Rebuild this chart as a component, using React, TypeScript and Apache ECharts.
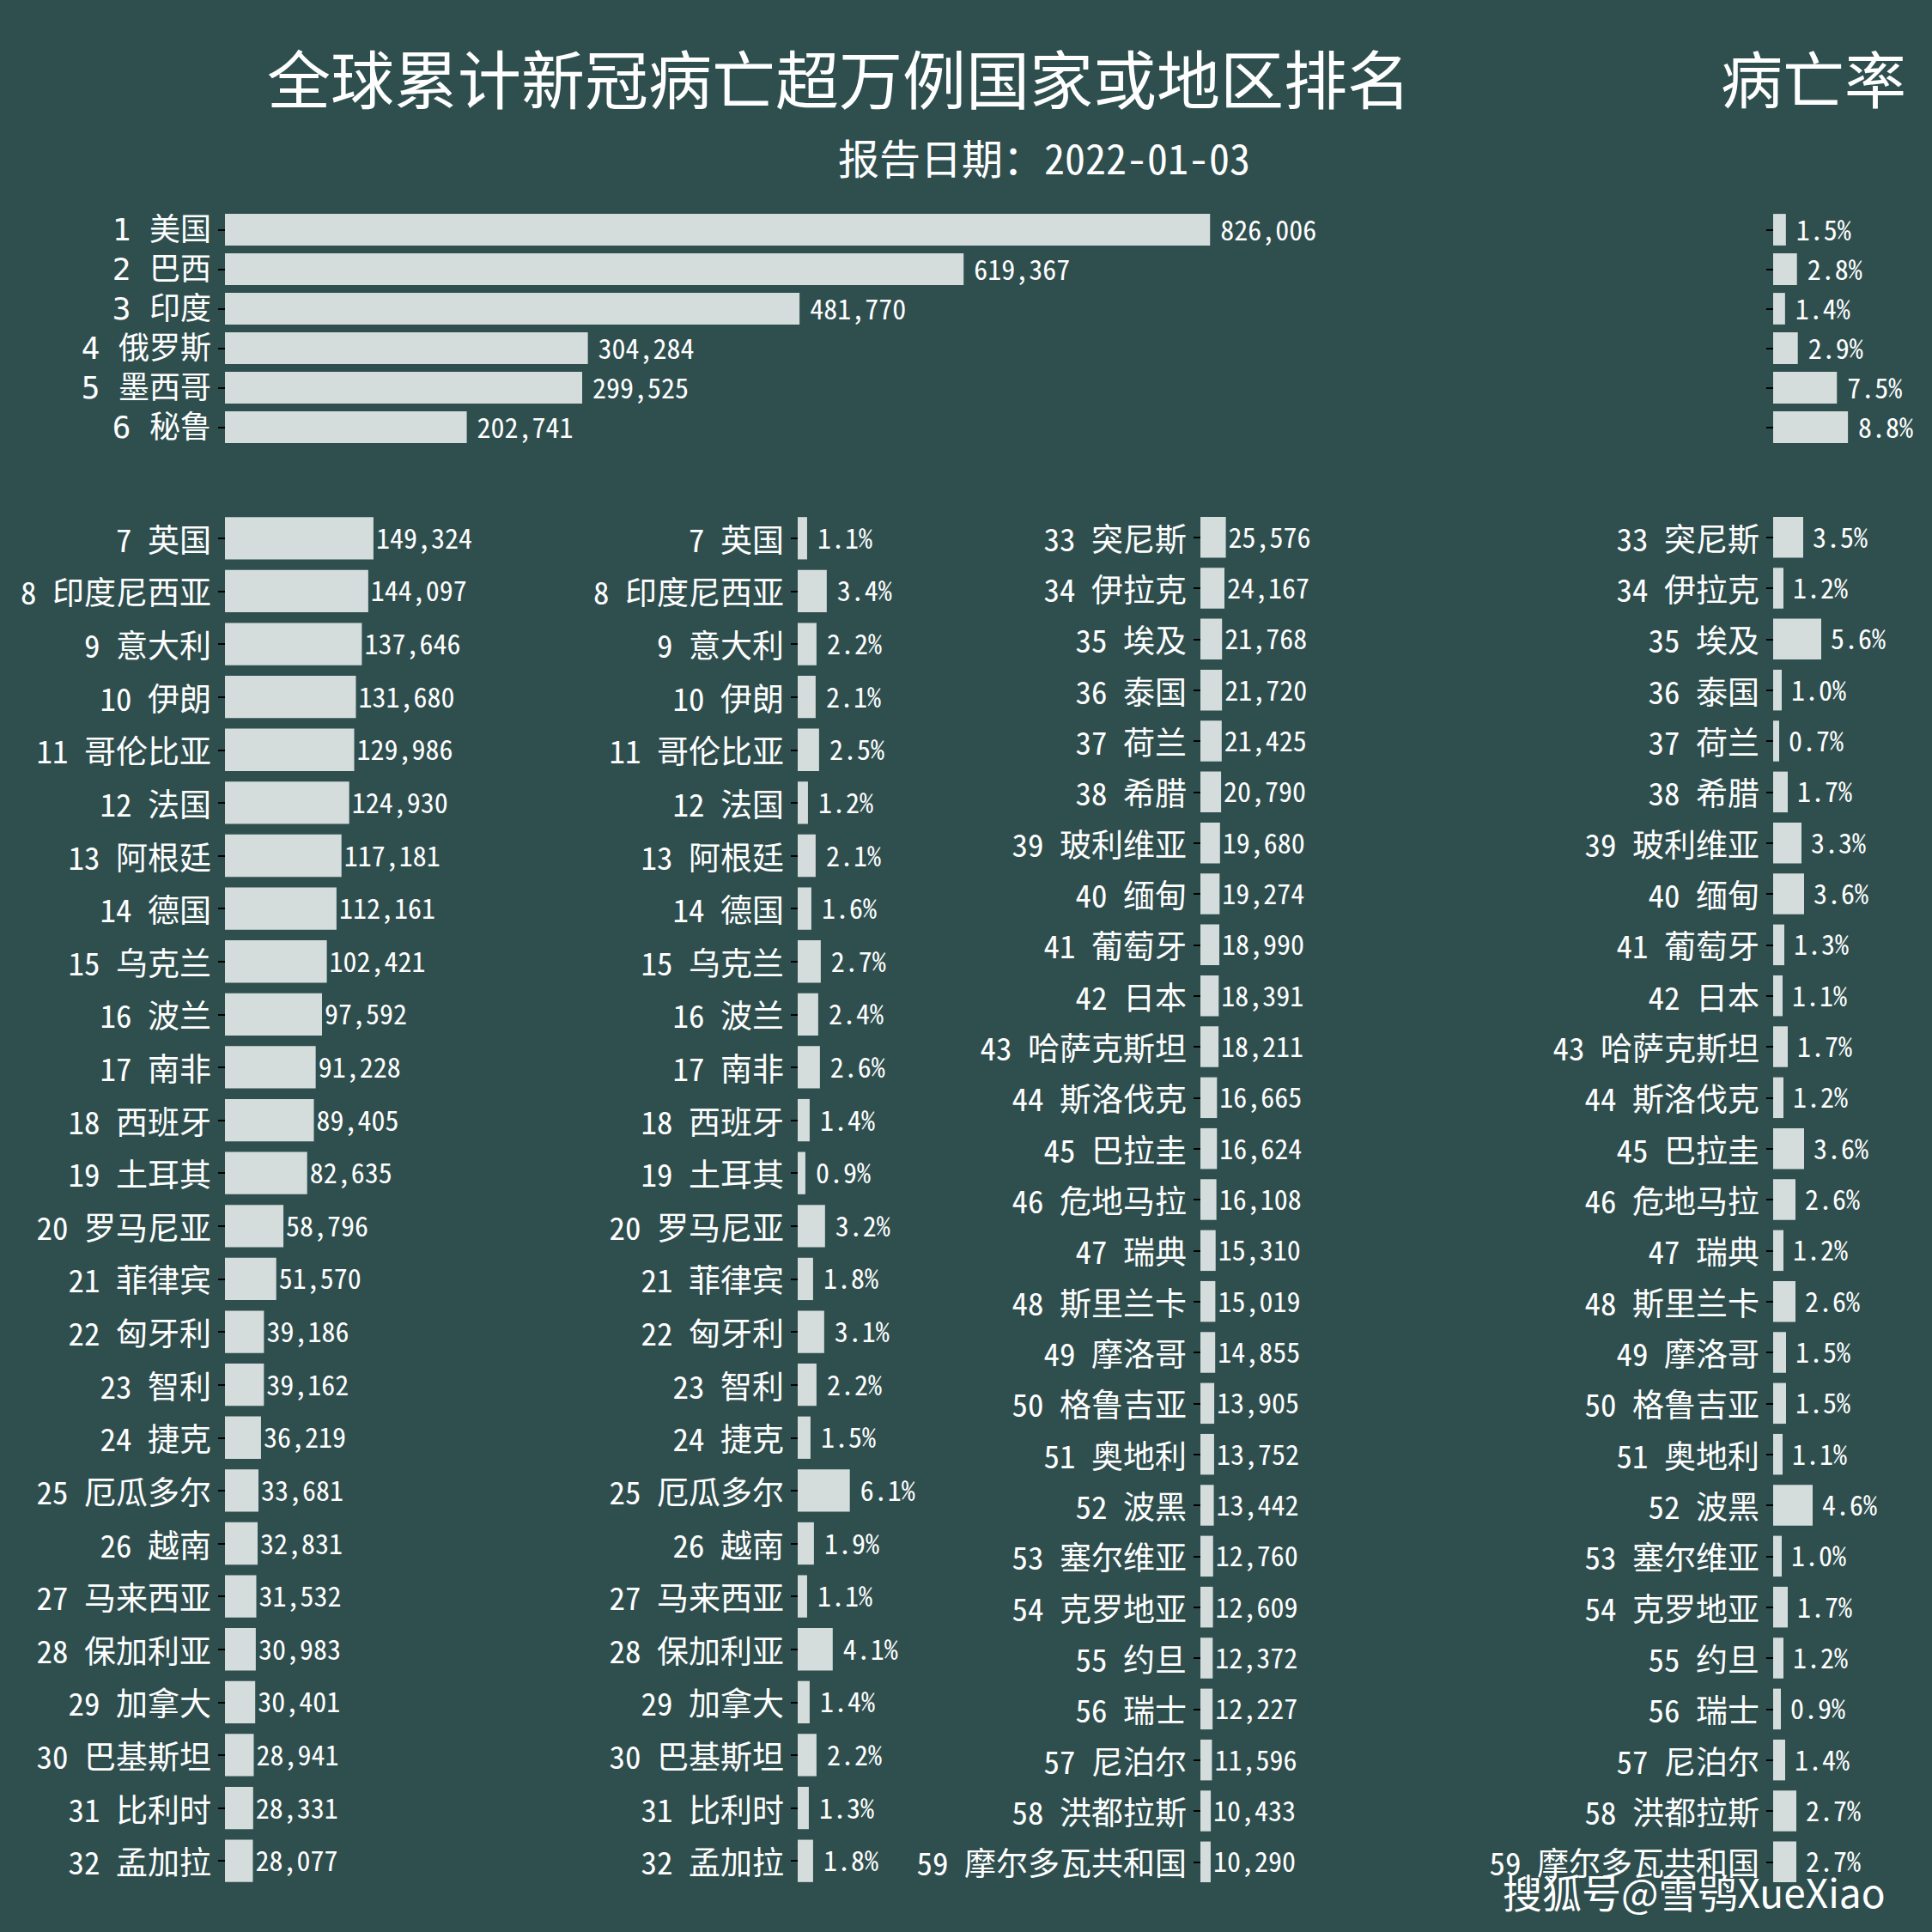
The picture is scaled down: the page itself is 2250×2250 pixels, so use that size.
import React, { useEffect, useRef } from 'react';
import * as echarts from 'echarts';

const TITLE = '全球累计新冠病亡超万例国家或地区排名';
const RATE_TITLE = '病亡率';
const SUBTITLE = '报告日期：2022-01-03';
const WATERMARK = '搜狐号@雪鸮XueXiao';

const topNames = ['美国', '巴西', '印度', '俄罗斯', '墨西哥', '秘鲁'];
const topDeaths = [826006, 619367, 481770, 304284, 299525, 202741];
const topRates = [1.5, 2.8, 1.4, 2.9, 7.5, 8.8];

const midNames = ['英国', '印度尼西亚', '意大利', '伊朗', '哥伦比亚', '法国', '阿根廷', '德国', '乌克兰', '波兰', '南非', '西班牙', '土耳其', '罗马尼亚', '菲律宾', '匈牙利', '智利', '捷克', '厄瓜多尔', '越南', '马来西亚', '保加利亚', '加拿大', '巴基斯坦', '比利时', '孟加拉'];
const midDeaths = [149324, 144097, 137646, 131680, 129986, 124930, 117181, 112161, 102421, 97592, 91228, 89405, 82635, 58796, 51570, 39186, 39162, 36219, 33681, 32831, 31532, 30983, 30401, 28941, 28331, 28077];
const midRates = [1.1, 3.4, 2.2, 2.1, 2.5, 1.2, 2.1, 1.6, 2.7, 2.4, 2.6, 1.4, 0.9, 3.2, 1.8, 3.1, 2.2, 1.5, 6.1, 1.9, 1.1, 4.1, 1.4, 2.2, 1.3, 1.8];

const lowNames = ['突尼斯', '伊拉克', '埃及', '泰国', '荷兰', '希腊', '玻利维亚', '缅甸', '葡萄牙', '日本', '哈萨克斯坦', '斯洛伐克', '巴拉圭', '危地马拉', '瑞典', '斯里兰卡', '摩洛哥', '格鲁吉亚', '奥地利', '波黑', '塞尔维亚', '克罗地亚', '约旦', '瑞士', '尼泊尔', '洪都拉斯', '摩尔多瓦共和国'];
const lowDeaths = [25576, 24167, 21768, 21720, 21425, 20790, 19680, 19274, 18990, 18391, 18211, 16665, 16624, 16108, 15310, 15019, 14855, 13905, 13752, 13442, 12760, 12609, 12372, 12227, 11596, 10433, 10290];
const lowRates = [3.5, 1.2, 5.6, 1.0, 0.7, 1.7, 3.3, 3.6, 1.3, 1.1, 1.7, 1.2, 3.6, 2.6, 1.2, 2.6, 1.5, 1.5, 1.1, 4.6, 1.0, 1.7, 1.2, 0.9, 1.4, 2.7, 2.7];

const BG = '#2f4f4f';
const BAR = '#d5dcdc';
const CJK = '"Noto Sans CJK SC", sans-serif';
const MONO = '"Noto Sans Mono CJK SC", "DejaVu Sans Mono", "Noto Sans CJK SC", monospace';
const TOPLBL = '"DejaVu Sans Mono", "Noto Sans Mono CJK SC", "Noto Sans CJK SC", monospace';

const fmtDeaths = (v: number) => v.toLocaleString('en-US');
const fmtRate = (v: number) => v.toFixed(1) + '%';

export default function App() {
  const ref = useRef<HTMLDivElement>(null);
  useEffect(() => {
    if (!ref.current) return;
    const chart = echarts.init(ref.current, null, { renderer: 'svg' });

    const panels = [
      { names: topNames, start: 1, values: topDeaths, kind: 'd', grid: { left: 262, top: 244.5, width: 1250, height: 276 }, max: 900000, showLabel: true, dist: 12, fs: 36, ff: TOPLBL },
      { names: topNames, start: 1, values: topRates, kind: 'r', grid: { left: 2065, top: 244.5, width: 99, height: 276 }, max: 10, showLabel: false, dist: 12, fs: 36, ff: TOPLBL },
      { names: midNames, start: 7, values: midDeaths, kind: 'd', grid: { left: 262, top: 596, width: 231.6, height: 1602 }, max: 200000, showLabel: true, dist: 3, fs: 37, ff: MONO },
      { names: midNames, start: 7, values: midRates, kind: 'r', grid: { left: 929, top: 596, width: 99.5, height: 1602 }, max: 10, showLabel: true, dist: 12, fs: 37, ff: MONO },
      { names: lowNames, start: 33, values: lowDeaths, kind: 'd', grid: { left: 1398, top: 596, width: 231.6, height: 1602 }, max: 200000, showLabel: true, dist: 3, fs: 37, ff: MONO },
      { names: lowNames, start: 33, values: lowRates, kind: 'r', grid: { left: 2065, top: 596, width: 100, height: 1602 }, max: 10, showLabel: true, dist: 11, fs: 37, ff: MONO },
    ];

    const option: any = {
      animation: false,
      backgroundColor: BG,
      grid: panels.map((p) => ({ ...p.grid, containLabel: false })),
      xAxis: panels.map((p, i) => ({ type: 'value', gridIndex: i, min: 0, max: p.max, show: false })),
      yAxis: panels.map((p, i) => ({
        type: 'category',
        gridIndex: i,
        inverse: true,
        data: p.names.map((n, j) => `${p.start + j} ${n}`),
        axisLine: { show: false },
        axisTick: { show: true, alignWithLabel: true, interval: 0, length: 8, lineStyle: { color: '#000', width: 2 } },
        axisLabel: { show: p.showLabel, interval: 0, color: '#fff', fontSize: p.fs, lineHeight: p.fs, fontFamily: p.ff, margin: 16 },
        splitLine: { show: false },
      })),
      series: panels.map((p, i) => ({
        type: 'bar',
        xAxisIndex: i,
        yAxisIndex: i,
        data: p.values,
        barCategoryGap: '20%',
        itemStyle: { color: BAR },
        label: {
          show: true,
          position: 'right',
          distance: p.dist,
          offset: [0, -2],
          color: '#fff',
          fontSize: 32,
          fontFamily: MONO,
          formatter: (d: any) => (p.kind === 'd' ? fmtDeaths(d.value) : fmtRate(d.value)),
        },
      })),
      graphic: [
        {
          type: 'text', x: 977, y: 88,
          style: { text: TITLE, fill: '#fff', font: `74px ${CJK}`, align: 'center', verticalAlign: 'middle', textShadowColor: 'rgba(200,205,205,0.7)', textShadowOffsetX: 2, textShadowOffsetY: 2, textShadowBlur: 0 },
        },
        {
          type: 'text', x: 2112, y: 88,
          style: { text: RATE_TITLE, fill: '#fff', font: `72px ${CJK}`, align: 'center', verticalAlign: 'middle', textShadowColor: 'rgba(200,205,205,0.7)', textShadowOffsetX: 2, textShadowOffsetY: 2, textShadowBlur: 0 },
        },
        {
          type: 'text', x: 1216, y: 182,
          style: { text: SUBTITLE, fill: '#fff', font: `48px ${MONO}`, align: 'center', verticalAlign: 'middle' },
        },
        {
          type: 'text', x: 1750, y: 2202,
          style: { text: WATERMARK, fill: '#fff', font: `46px ${CJK}`, align: 'left', verticalAlign: 'middle', textShadowColor: 'rgba(0,0,0,0.9)', textShadowOffsetX: 3, textShadowOffsetY: 3, textShadowBlur: 0 },
        },
      ],
    };
    chart.setOption(option);
    return () => chart.dispose();
  }, []);
  return <div ref={ref} style={{ position: 'absolute', left: 0, top: 0, width: 2250, height: 2250 }} />;
}
